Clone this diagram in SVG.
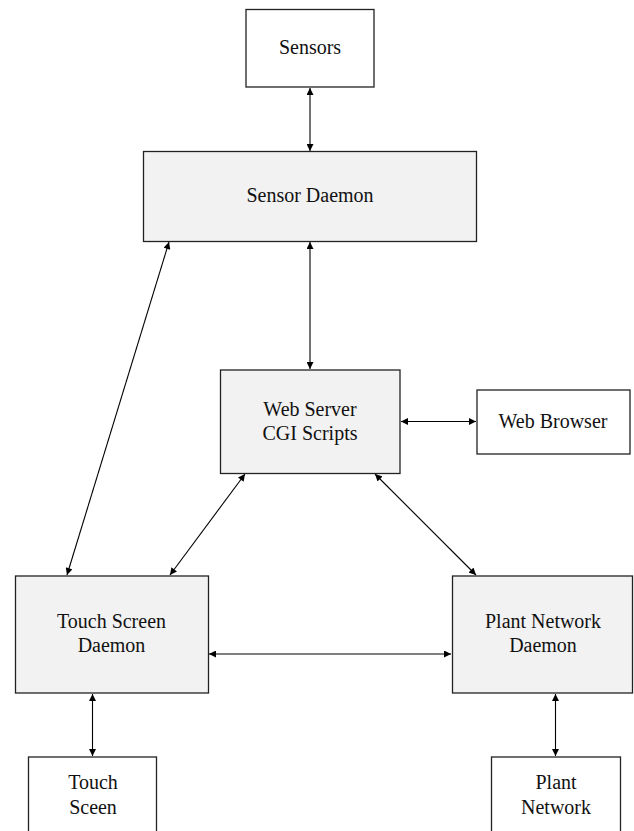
<svg xmlns="http://www.w3.org/2000/svg" width="634" height="831" viewBox="0 0 634 831">
<defs>
<marker id="ah" viewBox="0 0 10 10" refX="10" refY="5" markerWidth="8" markerHeight="7" markerUnits="userSpaceOnUse" orient="auto-start-reverse">
<path d="M0,0 L10,5 L0,10 z" fill="#000"/>
</marker>
<style>
.box{stroke:#222;stroke-width:1.3;}
.g{fill:#f2f2f2;}
.w{fill:#fff;}
text{font-family:"Liberation Serif","Times New Roman",serif;font-size:20px;fill:#111;text-anchor:middle;}
.c line{stroke:#000;stroke-width:1.1;marker-start:url(#ah);marker-end:url(#ah);}
</style>
</defs>
<rect width="634" height="831" fill="#fff"/>
<g class="c" id="connectors">
<line x1="310" y1="88" x2="310" y2="151"/>
<line x1="310" y1="242" x2="310" y2="369"/>
<line x1="169" y1="242" x2="67" y2="575"/>
<line x1="401" y1="421.5" x2="476" y2="421.5"/>
<line x1="245" y1="474" x2="170" y2="575"/>
<line x1="375" y1="474" x2="476" y2="575"/>
<line x1="209" y1="654" x2="451" y2="654"/>
<line x1="92.5" y1="694" x2="92.5" y2="756"/>
<line x1="555.5" y1="694" x2="555.5" y2="756"/>
</g>
<g id="sensors"><rect class="box w" x="246" y="9.5" width="128" height="77.5"/><text transform="translate(310 54) scale(1 1.08)">Sensors</text></g>
<g id="sensor-daemon"><rect class="box g" x="143.5" y="151.5" width="333" height="90"/><text transform="translate(310 202) scale(1 1.08)">Sensor Daemon</text></g>
<g id="web-server"><rect class="box g" x="220.5" y="370" width="179.5" height="103.5"/><text transform="translate(310 416) scale(1 1.08)">Web Server</text><text transform="translate(310 440) scale(1 1.08)">CGI Scripts</text></g>
<g id="web-browser"><rect class="box w" x="477" y="390" width="153" height="64"/><text transform="translate(553 428) scale(1 1.08)">Web Browser</text></g>
<g id="touch-screen-daemon"><rect class="box g" x="15.5" y="576" width="193" height="117"/><text transform="translate(111.5 627.5) scale(1 1.08)">Touch Screen</text><text transform="translate(111.5 652) scale(1 1.08)">Daemon</text></g>
<g id="plant-network-daemon"><rect class="box g" x="452.5" y="576" width="180" height="117"/><text transform="translate(543 627.5) scale(1 1.08)">Plant Network</text><text transform="translate(543 652) scale(1 1.08)">Daemon</text></g>
<g id="touch-sceen"><rect class="box w" x="28.5" y="757" width="128" height="90"/><text transform="translate(93 789) scale(1 1.08)">Touch</text><text transform="translate(93 814) scale(1 1.08)">Sceen</text></g>
<g id="plant-network"><rect class="box w" x="491.5" y="757" width="129" height="90"/><text transform="translate(556 789) scale(1 1.08)">Plant</text><text transform="translate(556 814) scale(1 1.08)">Network</text></g>
</svg>
